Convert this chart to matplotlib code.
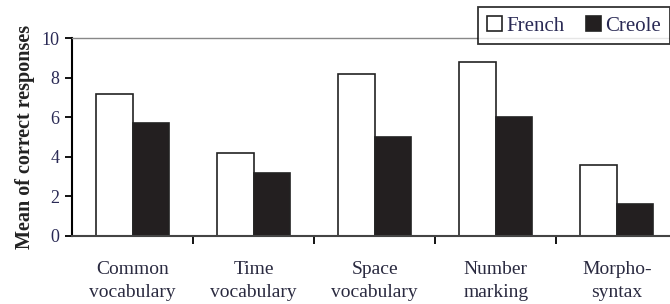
import matplotlib
matplotlib.use("Agg")
import matplotlib.pyplot as plt
import numpy as np

# ─── Data ────────────────────────────────────────────────────────────────────
categories = ["Common\nvocabulary", "Time\nvocabulary", "Space\nvocabulary",
              "Number\nmarking", "Morpho-\nsyntax"]
french = [7.2, 4.2, 8.2, 8.8, 3.6]
creole = [5.7, 3.2, 5.0, 6.0, 1.6]
y_ticks = [0, 2, 4, 6, 8, 10]

plt.rcParams["font.family"] = ["Liberation Serif", "DejaVu Serif"]

fig = plt.figure(figsize=(6.7, 3.04), dpi=100)
ax = fig.add_axes([0.1075, 0.2237, 0.8925, 0.651])

x = np.arange(len(categories))
w = 0.3
ax.bar(x - w / 2, french, w, color="white", edgecolor="#222222",
       linewidth=1.2, label="French")
ax.bar(x + w / 2, creole, w, color="#231f20", edgecolor="#222222",
       linewidth=1.2, label="Creole")

ax.set_xlim(-0.5, 4.44)
ax.set_ylim(0, 10)
ax.set_yticks(y_ticks)
ax.tick_params(axis="y", labelsize=13, direction="out", length=5, width=1.3,
               pad=4, labelcolor="#2a2a55")

# category labels at centres, tick marks at boundaries
ax.set_xticks(x)
ax.set_xticklabels(categories, fontsize=14, linespacing=1.45,
                   color="#2a2a40")
ax.tick_params(axis="x", which="major", length=0, pad=18)
ax.set_xticks(np.arange(0.5, 4.5, 1.0), minor=True)
ax.tick_params(axis="x", which="minor", direction="out", length=6, width=1.3)

ax.spines["right"].set_visible(False)
ax.spines["top"].set_color("#888888")
ax.spines["top"].set_linewidth(1.0)
ax.spines["left"].set_linewidth(1.5)
ax.spines["bottom"].set_linewidth(1.5)
ax.spines["bottom"].set_color("#444444")

ax.set_ylabel("Mean of correct responses", fontsize=14.5, fontweight="bold",
              labelpad=5, color="#222222")

leg = fig.legend(loc="upper right", bbox_to_anchor=(1.0, 0.977), ncol=2,
                 frameon=True, fancybox=False, fontsize=15,
                 handlelength=0.75, handleheight=0.75, handletextpad=0.2,
                 columnspacing=1.0, borderpad=0.42, borderaxespad=0)
leg.get_frame().set_edgecolor("black")
leg.get_frame().set_linewidth(1.3)
for t in leg.get_texts():
    t.set_color("#2a2a55")

fig.savefig("out.png", dpi=100)
